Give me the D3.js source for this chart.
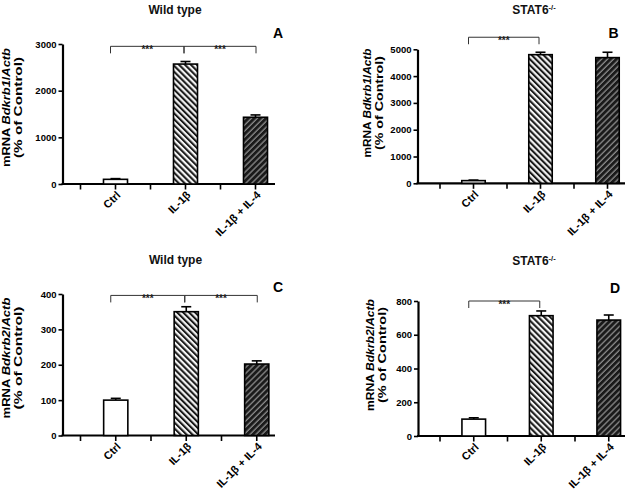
<!DOCTYPE html>
<html>
<head>
<meta charset="utf-8">
<script src="https://cdn.jsdelivr.net/npm/d3@7"></script>
<style>
  html, body { margin: 0; padding: 0; background: #fff; }
  svg { display: block; font-family: "Liberation Sans", Arial, sans-serif; }
</style>
</head>
<body>
<svg id="chart" width="629" height="493"></svg>
<script>
// ---------------- data ----------------
const categories = ["Ctrl", "IL-1β", "IL-1β + IL-4"];

const valuesA = [100, 2570, 1430];
const errorsA = [15, 55, 50];
const ticksA = [0, 1000, 2000, 3000];
const sigA = [[0, 1, 2950], [1, 2, 2950]];

const valuesB = [100, 4800, 4690];
const errorsB = [20, 90, 200];
const ticksB = [0, 1000, 2000, 3000, 4000, 5000];
const sigB = [[0, 1, 5450]];

const valuesC = [100, 350, 202];
const errorsC = [5, 14, 9];
const ticksC = [0, 100, 200, 300, 400];
const sigC = [[0, 1, 396], [1, 2, 396]];

const valuesD = [100, 713, 687];
const errorsD = [8, 28, 30];
const ticksD = [0, 200, 400, 600, 800];
const sigD = [[0, 1, 800]];

const titleWT = "Wild type";
const titleKO = "STAT6";
const titleKOsup = "-/-";
const genes = ["Bdkrb1", "Bdkrb1", "Bdkrb2", "Bdkrb2"];
const panelLetters = ["A", "B", "C", "D"];
const sigLabel = "***";

// ---------------- layout ----------------
const panels = [
  { letter: panelLetters[0], title: titleWT, sup: "", gene: genes[0], values: valuesA, errors: errorsA, ticks: ticksA, sig: sigA,
    axisX: 62.5, y0: 184, y1: 44, bandStart: 80.5, bandW: 70, barFrac: 0.343, axisEnd: 275,
    titleX: 175, titleY: 14, letterX: 278, letterY: 38, labX: 10, labY: 107.5, len1: 119, len2: 101 },
  { letter: panelLetters[1], title: titleKO, sup: titleKOsup, gene: genes[1], values: valuesB, errors: errorsB, ticks: ticksB, sig: sigB,
    axisX: 417.5, y0: 183.3, y1: 49.3, bandStart: 440, bandW: 67, barFrac: 0.35, axisEnd: 625,
    titleX: 534, titleY: 14, letterX: 613.5, letterY: 37.5, labX: 370.5, labY: 103, len1: 109, len2: 94 },
  { letter: panelLetters[2], title: titleWT, sup: "", gene: genes[2], values: valuesC, errors: errorsC, ticks: ticksC, sig: sigC,
    axisX: 62.5, y0: 435.5, y1: 294, bandStart: 80.5, bandW: 70.5, barFrac: 0.343, axisEnd: 275,
    titleX: 175.5, titleY: 264, letterX: 278, letterY: 292, labX: 10, labY: 358, len1: 121, len2: 103 },
  { letter: panelLetters[3], title: titleKO, sup: titleKOsup, gene: genes[3], values: valuesD, errors: errorsD, ticks: ticksD, sig: sigD,
    axisX: 418, y0: 436, y1: 301, bandStart: 440, bandW: 67.5, barFrac: 0.35, axisEnd: 625,
    titleX: 534, titleY: 265, letterX: 615, letterY: 293, labX: 374, labY: 355, len1: 112, len2: 96 }
];

const svg = d3.select("#chart");
const defs = svg.append("defs");

// light hatch "\\\\"
const pLight = defs.append("pattern").attr("id", "hatchLight")
  .attr("patternUnits", "userSpaceOnUse").attr("width", 4.2).attr("height", 4.2)
  .attr("patternTransform", "rotate(-45)");
pLight.append("rect").attr("width", 4.2).attr("height", 4.2).attr("fill", "#f4f4f4");
pLight.append("line").attr("x1", 1).attr("x2", 1).attr("y1", 0).attr("y2", 4.2)
  .attr("stroke", "#1a1a1a").attr("stroke-width", 2.1);

// dark hatch "////"
const pDark = defs.append("pattern").attr("id", "hatchDark")
  .attr("patternUnits", "userSpaceOnUse").attr("width", 4.2).attr("height", 4.2)
  .attr("patternTransform", "rotate(45)");
pDark.append("rect").attr("width", 4.2).attr("height", 4.2).attr("fill", "#1a1a1a");
pDark.append("line").attr("x1", 1).attr("x2", 1).attr("y1", 0).attr("y2", 4.2)
  .attr("stroke", "#8a8a8a").attr("stroke-width", 1.3);

const fills = ["#ffffff", "url(#hatchLight)", "url(#hatchDark)"];

panels.forEach(p => {
  const g = svg.append("g");
  const maxV = p.ticks[p.ticks.length - 1];
  const y = d3.scaleLinear().domain([0, maxV]).range([p.y0, p.y1]);
  const x = d3.scaleBand().domain(categories)
    .range([p.bandStart, p.bandStart + p.bandW * categories.length])
    .paddingInner(0).paddingOuter(0);
  const cx = c => x(c) + x.bandwidth() / 2;
  const bw = x.bandwidth() * p.barFrac;

  // title
  const t = g.append("text").attr("x", p.titleX).attr("y", p.titleY)
    .attr("text-anchor", "middle").attr("font-size", 12).attr("font-weight", "bold")
    .attr("fill", "#111");
  t.append("tspan").text(p.title);
  if (p.sup) {
    t.append("tspan").attr("font-size", 7.5).attr("dy", -4.5).text(p.sup);
  }

  // panel letter
  g.append("text").attr("x", p.letterX).attr("y", p.letterY)
    .attr("text-anchor", "middle").attr("font-size", 14).attr("font-weight", "bold")
    .text(p.letter);

  // y axis
  const yAxis = d3.axisLeft(y).tickValues(p.ticks).tickSize(4).tickSizeOuter(0).tickPadding(2)
    .tickFormat(d3.format("d"));
  const ya = g.append("g").attr("transform", `translate(${p.axisX},0)`).call(yAxis);
  ya.select(".domain").attr("stroke", "#000").attr("stroke-width", 2.2);
  ya.selectAll(".tick line").attr("stroke", "#000").attr("stroke-width", 1.6);
  ya.selectAll(".tick text").attr("font-size", 9.5).attr("font-weight", "bold")
    .attr("font-family", "Liberation Sans, Arial, sans-serif").attr("fill", "#000");

  // y label
  const lab = g.append("g").attr("transform", `translate(${p.labX},${p.labY}) rotate(-90)`);
  const l1 = lab.append("text").attr("x", 0).attr("y", 0).attr("text-anchor", "middle")
    .attr("font-size", 11).attr("font-weight", "bold")
    .attr("textLength", p.len1).attr("lengthAdjust", "spacingAndGlyphs");
  l1.append("tspan").text("mRNA ");
  l1.append("tspan").attr("font-style", "italic").text(p.gene);
  l1.append("tspan").text("/");
  l1.append("tspan").attr("font-style", "italic").text("Actb");
  lab.append("text").attr("x", 0).attr("y", 12).attr("text-anchor", "middle")
    .attr("font-size", 11).attr("font-weight", "bold")
    .attr("textLength", p.len2).attr("lengthAdjust", "spacingAndGlyphs")
    .text("(% of Control)");

  // x axis line
  g.append("line").attr("x1", p.axisX - 1).attr("x2", p.axisEnd)
    .attr("y1", p.y0).attr("y2", p.y0).attr("stroke", "#000").attr("stroke-width", 2.2);
  // x ticks: at band starts and band centres
  const xt = [];
  categories.forEach(c => { xt.push(x(c)); xt.push(cx(c)); });
  g.selectAll(".xt").data(xt).enter().append("line")
    .attr("x1", d => d).attr("x2", d => d)
    .attr("y1", p.y0).attr("y2", p.y0 + 5.5)
    .attr("stroke", "#000").attr("stroke-width", 1.6);

  // x labels
  g.selectAll(".xl").data(categories).enter().append("text")
    .attr("transform", d => `translate(${cx(d) + 3},${p.y0 + 9}) rotate(-45)`)
    .attr("text-anchor", "end").attr("dy", "0.35em")
    .attr("font-size", 11).attr("font-weight", "bold")
    .text(d => d);

  // error bars (upper only)
  categories.forEach((c, i) => {
    const v = p.values[i], e = p.errors[i];
    g.append("line").attr("x1", cx(c)).attr("x2", cx(c))
      .attr("y1", y(v)).attr("y2", y(v + e)).attr("stroke", "#000").attr("stroke-width", 1.6);
    g.append("line").attr("x1", cx(c) - 5).attr("x2", cx(c) + 5)
      .attr("y1", y(v + e)).attr("y2", y(v + e)).attr("stroke", "#000").attr("stroke-width", 1.6);
  });

  // bars
  g.selectAll(".bar").data(categories).enter().append("rect")
    .attr("x", d => cx(d) - bw / 2)
    .attr("width", bw)
    .attr("y", (d, i) => y(p.values[i]))
    .attr("height", (d, i) => p.y0 - y(p.values[i]))
    .attr("fill", (d, i) => fills[i])
    .attr("stroke", "#000").attr("stroke-width", 1.6);

  // significance brackets
  const offs = [-5, -1.5, 0.5];
  p.sig.forEach(s => {
    const xa = cx(categories[s[0]]) + offs[s[0]];
    const xb = cx(categories[s[1]]) + offs[s[1]];
    const yy = y(s[2]);
    g.append("line").attr("x1", xa).attr("x2", xb).attr("y1", yy).attr("y2", yy)
      .attr("stroke", "#333").attr("stroke-width", 1);
    [xa, xb].forEach(xx => {
      g.append("line").attr("x1", xx).attr("x2", xx).attr("y1", yy).attr("y2", yy + 7)
        .attr("stroke", "#333").attr("stroke-width", 1);
    });
    g.append("text").attr("x", (xa + xb) / 2).attr("y", yy + 6.5)
      .attr("text-anchor", "middle").attr("font-size", 10).attr("font-weight", "bold")
      .attr("fill", "#222").text(sigLabel);
  });
});
</script>
</body>
</html>
